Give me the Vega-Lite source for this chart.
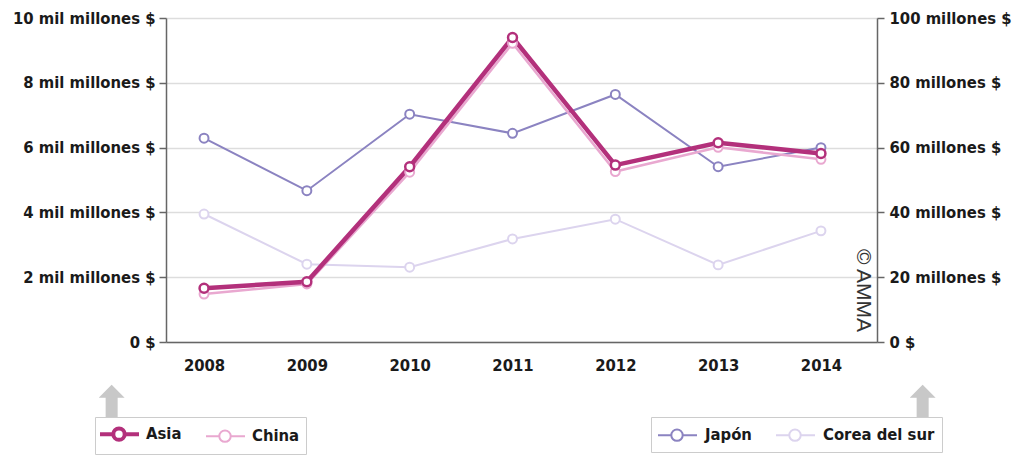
{
  "$schema": "https://vega.github.io/schema/vega-lite/v6.json",
  "width": 711,
  "height": 324,
  "autosize": {"type": "none"},
  "padding": {"left": 166, "top": 18, "right": 144, "bottom": 114},
  "background": "white",
  "config": {
    "view": {"stroke": null},
    "axis": {
      "labelFont": "DejaVu Sans Condensed",
      "labelFontWeight": "bold",
      "labelFontSize": 16.5,
      "labelColor": "#1a1a1a",
      "domainColor": "#666666",
      "domainWidth": 1.5,
      "tickColor": "#666666",
      "tickWidth": 1.5,
      "tickSize": 7,
      "gridColor": "#dddddd",
      "gridWidth": 1.5
    },
    "legend": {
      "orient": "none",
      "direction": "horizontal",
      "strokeColor": "#cccccc",
      "fillColor": "white",
      "padding": 7,
      "symbolSize": 400,
      "symbolStrokeWidth": 2,
      "labelFont": "DejaVu Sans Condensed",
      "labelFontSize": 16.5,
      "labelFontWeight": "bold",
      "labelColor": "#1a1a1a",
      "columnPadding": 20
    }
  },
  "datasets": {
    "left": [
      {"year": 2008, "series": "China", "value": 1.48},
      {"year": 2009, "series": "China", "value": 1.79},
      {"year": 2010, "series": "China", "value": 5.24},
      {"year": 2011, "series": "China", "value": 9.22},
      {"year": 2012, "series": "China", "value": 5.26},
      {"year": 2013, "series": "China", "value": 6.01},
      {"year": 2014, "series": "China", "value": 5.64},
      {"year": 2008, "series": "Asia", "value": 1.66},
      {"year": 2009, "series": "Asia", "value": 1.86},
      {"year": 2010, "series": "Asia", "value": 5.41},
      {"year": 2011, "series": "Asia", "value": 9.4},
      {"year": 2012, "series": "Asia", "value": 5.46},
      {"year": 2013, "series": "Asia", "value": 6.15},
      {"year": 2014, "series": "Asia", "value": 5.82}
    ],
    "right": [
      {"year": 2008, "series": "Corea del sur", "value": 39.5},
      {"year": 2009, "series": "Corea del sur", "value": 24.0},
      {"year": 2010, "series": "Corea del sur", "value": 23.1},
      {"year": 2011, "series": "Corea del sur", "value": 31.8},
      {"year": 2012, "series": "Corea del sur", "value": 37.9},
      {"year": 2013, "series": "Corea del sur", "value": 23.8},
      {"year": 2014, "series": "Corea del sur", "value": 34.3},
      {"year": 2008, "series": "Japón", "value": 62.9},
      {"year": 2009, "series": "Japón", "value": 46.7},
      {"year": 2010, "series": "Japón", "value": 70.3},
      {"year": 2011, "series": "Japón", "value": 64.4},
      {"year": 2012, "series": "Japón", "value": 76.4},
      {"year": 2013, "series": "Japón", "value": 54.1},
      {"year": 2014, "series": "Japón", "value": 60.0}
    ]
  },
  "encoding": {
    "x": {
      "field": "year",
      "type": "quantitative",
      "scale": {"domain": [2007.63, 2014.545], "nice": false, "zero": false},
      "axis": {
        "values": [2008, 2009, 2010, 2011, 2012, 2013, 2014],
        "format": "d",
        "ticks": false,
        "grid": false,
        "labelPadding": 15,
        "title": "© AMMA",
        "titleFont": "Liberation Sans",
        "titleFontWeight": "normal",
        "titleFontSize": 21,
        "titleColor": "#333333",
        "titleAngle": 90,
        "titleAlign": "center",
        "titleBaseline": "middle",
        "titleX": 696,
        "titleY": -52
      }
    }
  },
  "layer": [
    {
      "data": {"name": "right"},
      "encoding": {
        "y": {
          "field": "value",
          "type": "quantitative",
          "scale": {"domain": [0, 100], "nice": false},
          "axis": {
            "orient": "right",
            "values": [0, 20, 40, 60, 80, 100],
            "labelExpr": "datum.value == 0 ? '0 $' : datum.value + ' millones $'",
            "labelPadding": 5,
            "grid": false,
            "title": "⬆",
            "titleFont": "DejaVu Sans",
            "titleFontSize": 52,
            "titleFontWeight": "normal",
            "titleColor": "#c8c8c8",
            "titleAngle": 0,
            "titleAlign": "center",
            "titleBaseline": "middle",
            "titleX": 45,
            "titleY": 389
          }
        },
        "color": {
          "field": "series",
          "type": "nominal",
          "scale": {"domain": ["Japón", "Corea del sur"], "range": ["#8b83c1", "#dcd4ee"]},
          "legend": {
            "legendX": 485,
            "legendY": 399,
            "title": null,
            "symbolType": "M-1.1,0L0.23,0M1.37,0L2.8,0M0.23,0A0.57,0.57 0 1,1 1.37,0A0.57,0.57 0 1,1 0.23,0Z",
            "labelOffset": 25,
            "encode": {"symbols": {"update": {"fill": {"value": "white"}, "strokeWidth": {"value": 2}}}}
          }
        }
      },
      "layer": [
        {"mark": {"type": "line", "strokeWidth": 2}},
        {"mark": {"type": "point", "shape": "circle", "filled": false, "fill": "white", "size": 80, "strokeWidth": 2, "opacity": 1}}
      ]
    },
    {
      "data": {"name": "left"},
      "encoding": {
        "y": {
          "field": "value",
          "type": "quantitative",
          "scale": {"domain": [0, 10], "nice": false},
          "axis": {
            "orient": "left",
            "values": [0, 2, 4, 6, 8, 10],
            "labelExpr": "datum.value == 0 ? '0 $' : datum.value + ' mil millones $'",
            "labelPadding": 4,
            "grid": true,
            "title": "⬆",
            "titleFont": "DejaVu Sans",
            "titleFontSize": 52,
            "titleFontWeight": "normal",
            "titleColor": "#c8c8c8",
            "titleAngle": 0,
            "titleAlign": "center",
            "titleBaseline": "middle",
            "titleX": -55,
            "titleY": 389
          }
        },
        "color": {
          "field": "series",
          "type": "nominal",
          "scale": {"domain": ["Asia", "China"], "range": ["#b3307b", "#e9a8d0"]},
          "legend": {
            "legendX": -71,
            "legendY": 399,
            "title": null,
            "padding": 6,
            "symbolType": "M-1.2,0L0.13,0M1.27,0L2.7,0M0.13,0A0.57,0.57 0 1,1 1.27,0A0.57,0.57 0 1,1 0.13,0Z",
            "labelOffset": 23,
            "encode": {"symbols": {"update": {"fill": {"value": "white"}, "strokeWidth": {"signal": "(datum.value === 'Asia' ? 4 : 2)"}}}}
          }
        }
      },
      "layer": [
        {
          "mark": {"type": "line"},
          "encoding": {"strokeWidth": {"condition": {"test": "datum.series === 'Asia'", "value": 4.5}, "value": 2.5}}
        },
        {
          "mark": {"type": "point", "shape": "circle", "filled": false, "fill": "white", "size": 80, "opacity": 1},
          "encoding": {"strokeWidth": {"condition": {"test": "datum.series === 'Asia'", "value": 2.5}, "value": 2}}
        }
      ]
    }
  ],
  "resolve": {"scale": {"y": "independent", "color": "independent"}}
}
